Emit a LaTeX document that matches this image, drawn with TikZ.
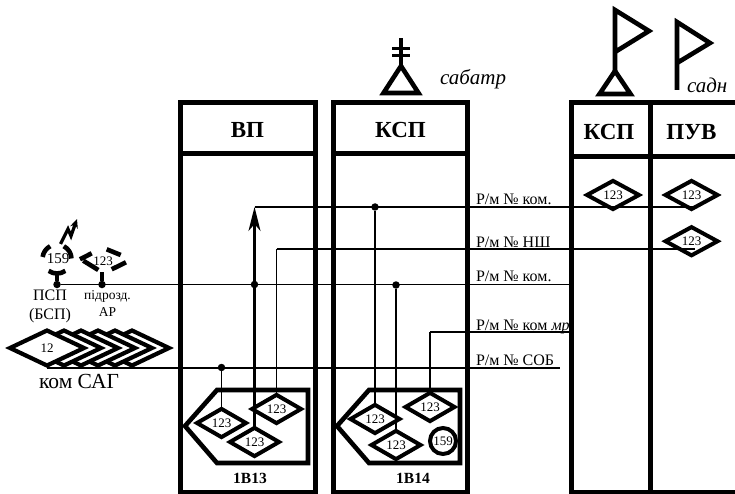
\documentclass[tikz,border=0pt]{standalone}
\usepackage{fontspec}
\setmainfont{Liberation Serif}
\usetikzlibrary{positioning,arrows.meta,shapes.geometric}

\begin{document}
\begin{tikzpicture}[
      x=1pt, y=-1pt,
      every node/.style={align=center, inner sep=0pt, outer sep=0pt},
      frm/.style={line width=5pt},
      sym/.style={line width=4.6pt},
      wire/.style={line width=1.5pt},
      boldwire/.style={line width=2pt},
      arr/.style={->, >={Stealth[length=24pt,width=12pt,inset=7pt]}, line width=2.2pt},
      tap/.style={circle, fill=black, minimum size=7.5pt},
      dmd/.style={diamond, draw, fill=white, line width=4pt, minimum width=49pt, minimum height=23pt, font=\fontsize{13}{14}\selectfont},
      bigdmd/.style={dmd, minimum width=52pt, minimum height=24pt},
      sagdmd/.style={diamond, draw, fill=white, line width=4.2pt, minimum width=74pt, minimum height=35pt, font=\fontsize{13}{14}\selectfont},
      head/.style={font=\fontsize{23}{25}\selectfont\bfseries},
      carlabel/.style={font=\fontsize{15.5}{16}\selectfont\bfseries},
      rm/.style={anchor=base west, font=\fontsize{16}{17}\selectfont},
      unit/.style={font=\fontsize{21}{23}\selectfont\itshape, anchor=base west}
  ]
    \useasboundingbox (0,0) rectangle (735,494);
    \node[head] (vp) at (247.5,130) {ВП};
    \node[head] (ksp) at (400.5,130) {КСП};
    \node[head] (ksp2) at (609,132) {КСП};
    \node[head] (puv) at (691.5,132) {ПУВ};
    \node[carlabel] (car13) at (250,478) {1В13};
    \node[carlabel] (car14) at (413,478) {1В14};
    \node[rm] (rm1) at (476,204.5) {Р/м № ком.};
    \node[rm] (rm2) at (476,247) {Р/м № НШ};
    \node[rm] (rm3) at (476,281.5) {Р/м № ком.};
    \node[rm] (rm4) at (476,330.5) {Р/м № ком \textit{мр}};
    \node[rm] (rm5) at (476,365.5) {Р/м № СОБ};
    \node[unit] (sabatr) at (440,85) {сабатр};
    \node[unit] (sadn) at (687,93) {садн};
    \node[dmd] (vp1) at (221.5,423) {123};
    \node[dmd] (vp2) at (254.5,442) {123};
    \node[dmd] (vp3) at (276.5,409) {123};
    \node[dmd] (ksp1) at (375,419) {123};
    \node[dmd] (ksp2d) at (396,445) {123};
    \node[dmd] (ksp3) at (430,407) {123};
    \node[circle, draw, line width=4pt, minimum size=26pt, font=\fontsize{13}{14}\selectfont] (ksp4) at (443,441) {159};
    \node[bigdmd] (top1) at (613,195) {123};
    \node[bigdmd] (top2) at (691.5,195) {123};
    \node[bigdmd, below=18pt of top2] (top3) {123};
    \draw[sym] (217,390) -- (185,426) -- (217,463) -- (308,463) -- (308,390) -- cycle;
    \draw[sym] (369,390) -- (337,426) -- (369,463) -- (460,463) -- (460,390) -- cycle;
    \node[tap] (t1) at (221.5,367.5) {};
    \node[tap] (t2) at (254.5,284.5) {};
    \node[tap] (t3) at (375,207) {};
    \node[tap] (t4) at (396,285) {};
    \node[tap] (t5) at (57,284.5) {};
    \node[tap] (t6) at (102,284.5) {};
    \coordinate (c1) at (254.5,207);
    \coordinate (c2) at (276.5,249);
    \coordinate (c4) at (430,332);
    \coordinate (c5) at (47,368);
    \coordinate (e1) at (697,207);
    \coordinate (e2) at (695,249);
    \coordinate (e3) at (570,284.5);
    \coordinate (e4) at (570,332);
    \coordinate (e5) at (560,368);
    \draw[wire] (c1) -- (e1);
    \draw[boldwire] (c2) -- (e2);
    \draw[wire] (t5) -- (e3);
    \draw[wire] (c4) -- (e4);
    \draw[wire] (c5) -- (e5);
    \draw[arr] (vp2.north) -- (c1);
    \draw[wire] (vp1.north) -- (t1);
    \draw[wire] (vp3.north) -- (c2);
    \draw[wire] (ksp1.north) -- (t3);
    \draw[wire] (ksp2d.north) -- (t4);
    \draw[wire] (ksp3.north) -- (c4);
    \node[sagdmd] (sag5) at (132,348) {};
    \node[sagdmd] (sag4) at (115,348) {};
    \node[sagdmd] (sag3) at (98,348) {};
    \node[sagdmd] (sag2) at (81,348) {};
    \node[sagdmd] (sag1) at (64,348) {};
    \node[sagdmd] (sag0) at (47,348) {12};
    \node[font=\fontsize{21.5}{23}\selectfont, anchor=base] (sag) at (79,388) {ком САГ};
    \node[font=\fontsize{15}{16}\selectfont] (psp) at (58,259) {159};
    \node[font=\fontsize{13}{14}\selectfont] (ar) at (103,261) {123};
    \node[font=\fontsize{16}{19}\selectfont, below=2pt of t5, xshift=-7pt] (psplabel) {ПСП\\(БСП)};
    \node[font=\fontsize{13.5}{17}\selectfont, below=2pt of t6, xshift=5.5pt] (arlabel) {підрозд.\\АР};
    \draw[sym] (57,259) ++(172:14.5pt) arc[start angle=172, end angle=118, radius=14.5pt];
    \draw[sym] (57,259) ++(62:14.5pt) arc[start angle=62, end angle=2, radius=14.5pt];
    \draw[sym] (57,259) ++(235:14.5pt) arc[start angle=235, end angle=305, radius=14.5pt];
    \draw[sym] (80,259.3) -- (91.7,253.3);
    \draw[sym] (83.3,260.7) -- (98.3,270);
    \draw[sym] (106.7,249.3) -- (120.7,255);
    \draw[sym] (126,262.3) -- (111.7,269.3);
    \draw[sym] (t5) -- (57,272);
    \draw[sym] (t6) -- (102,272);
    \draw[-{Stealth[length=9pt,width=8pt]}, line width=3.2pt] (60.5,244) -- (68,229) -- (71,236) -- (77,219);
    \draw[sym] (383.5,93) -- (418.5,93) -- (401,66) -- cycle;
    \draw[sym] (401,66) -- (401,38);
    \draw[line width=3pt] (392,49) -- (409.5,49);
    \draw[line width=3pt] (392,56) -- (409.5,56);
    \draw[sym] (599.5,94) -- (630.5,94) -- (615,71) -- cycle;
    \draw[sym] (615,71) -- (615,10) -- (649,31) -- (615,52);
    \draw[sym] (677,90) -- (677,22) -- (710,43) -- (677,63);
    \draw[frm] (180.5,103) rectangle (315,492);
    \draw[frm] (180.5,154) -- (315,154);
    \draw[frm] (333.5,103) rectangle (467.5,492);
    \draw[frm] (333.5,154) -- (467.5,154);
    \draw[frm] (742,102.5) -- (571.5,102.5) -- (571.5,492) -- (742,492);
    \draw[frm] (571.5,157) -- (742,157);
    \draw[frm] (650,102.5) -- (650,492);
  \end{tikzpicture}
\end{document}
